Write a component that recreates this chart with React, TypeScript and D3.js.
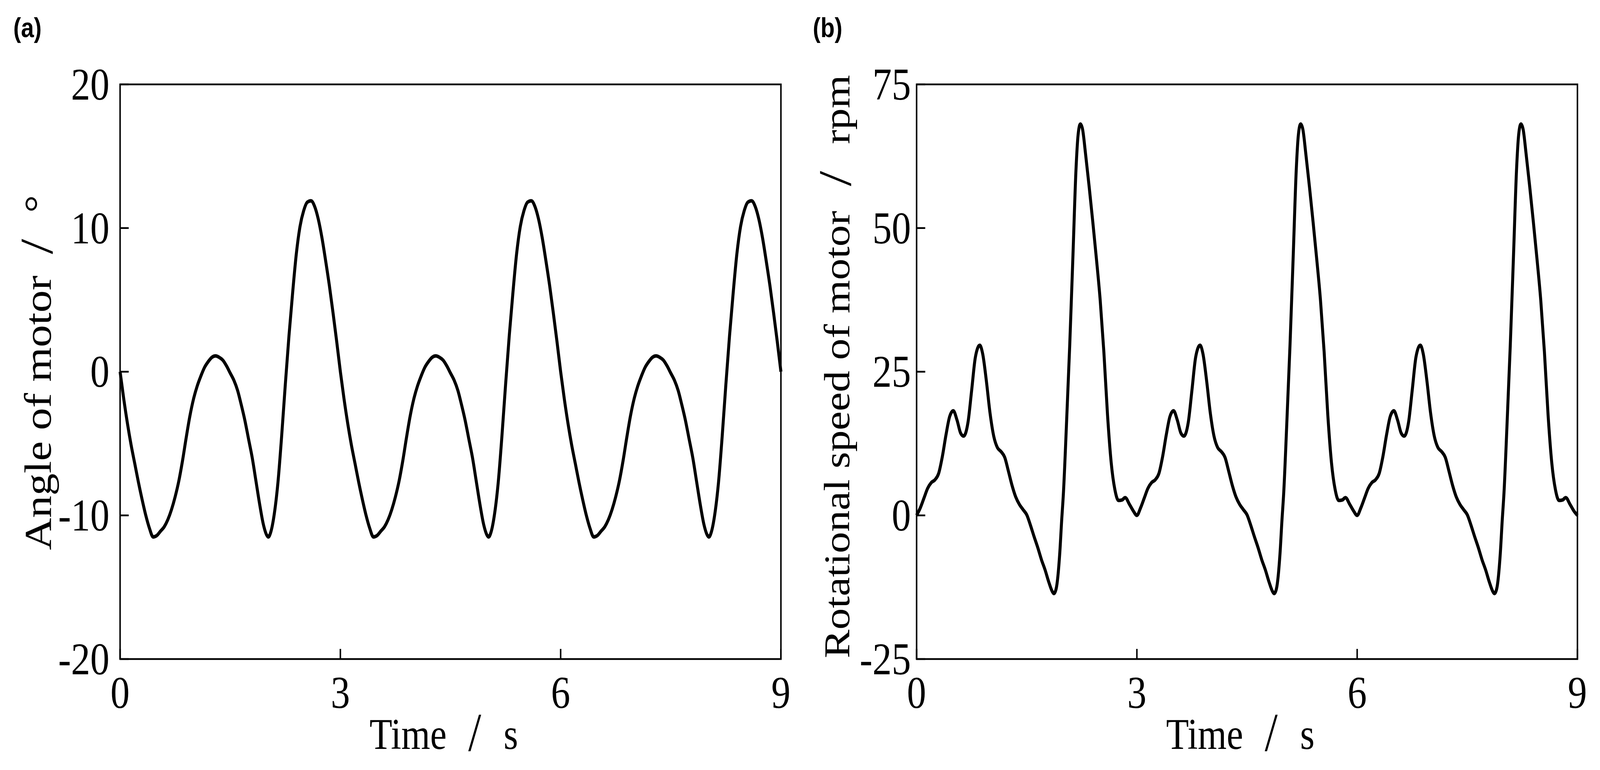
import { scaleLinear, line, curveMonotoneX } from "d3";

type Pt = [number, number];

// tick values shared by both panels
const timeTicks = [0, 3, 6, 9];
const angleTicks = [-20, -10, 0, 10, 20];
const speedTicks = [-25, 0, 25, 50, 75];

// (a) angle of motor, degrees, one cycle per array
const angleCycle1: Pt[] = [
  [0, 0], [0.05, -1.9], [0.1, -3.6], [0.15, -5.1], [0.2, -6.4], [0.25, -7.7], [0.3, -8.9], [0.35, -10.0],
  [0.4, -10.9], [0.45, -11.5], [0.5, -11.4], [0.55, -11.1], [0.6, -10.8], [0.65, -10.3], [0.7, -9.6],
  [0.75, -8.7], [0.8, -7.6], [0.85, -6.2], [0.9, -4.6], [0.95, -3.1], [1.0, -1.9], [1.05, -1.0], [1.1, -0.3],
  [1.15, 0.3], [1.2, 0.7], [1.25, 1.0], [1.3, 1.1], [1.35, 1.0], [1.4, 0.8], [1.45, 0.4], [1.5, -0.1],
  [1.55, -0.6], [1.6, -1.3], [1.65, -2.3], [1.7, -3.4], [1.75, -4.7], [1.8, -6.0], [1.85, -7.6], [1.9, -9.2],
  [1.95, -10.6], [2.0, -11.4], [2.02, -11.5], [2.05, -11.2], [2.1, -9.9], [2.15, -7.7], [2.2, -4.5],
  [2.25, -0.9], [2.3, 2.5], [2.35, 5.5], [2.4, 8.2], [2.45, 10.1], [2.5, 11.2], [2.55, 11.8], [2.6, 11.9],
  [2.65, 11.5], [2.7, 10.6], [2.75, 9.3], [2.8, 7.7], [2.85, 6.0], [2.9, 4.1], [2.95, 2.1],
];
const angleCycle2: Pt[] = [
  [3, 0], [3.05, -1.9], [3.1, -3.6], [3.15, -5.1], [3.2, -6.4], [3.25, -7.7], [3.3, -8.9], [3.35, -10.0],
  [3.4, -10.9], [3.45, -11.5], [3.5, -11.4], [3.55, -11.1], [3.6, -10.8], [3.65, -10.3], [3.7, -9.6],
  [3.75, -8.7], [3.8, -7.6], [3.85, -6.2], [3.9, -4.6], [3.95, -3.1], [4.0, -1.9], [4.05, -1.0], [4.1, -0.3],
  [4.15, 0.3], [4.2, 0.7], [4.25, 1.0], [4.3, 1.1], [4.35, 1.0], [4.4, 0.8], [4.45, 0.4], [4.5, -0.1],
  [4.55, -0.6], [4.6, -1.3], [4.65, -2.3], [4.7, -3.4], [4.75, -4.7], [4.8, -6.0], [4.85, -7.6], [4.9, -9.2],
  [4.95, -10.6], [5.0, -11.4], [5.02, -11.5], [5.05, -11.2], [5.1, -9.9], [5.15, -7.7], [5.2, -4.5],
  [5.25, -0.9], [5.3, 2.5], [5.35, 5.5], [5.4, 8.2], [5.45, 10.1], [5.5, 11.2], [5.55, 11.8], [5.6, 11.9],
  [5.65, 11.5], [5.7, 10.6], [5.75, 9.3], [5.8, 7.7], [5.85, 6.0], [5.9, 4.1], [5.95, 2.1],
];
const angleCycle3: Pt[] = [
  [6, 0], [6.05, -1.9], [6.1, -3.6], [6.15, -5.1], [6.2, -6.4], [6.25, -7.7], [6.3, -8.9], [6.35, -10.0],
  [6.4, -10.9], [6.45, -11.5], [6.5, -11.4], [6.55, -11.1], [6.6, -10.8], [6.65, -10.3], [6.7, -9.6],
  [6.75, -8.7], [6.8, -7.6], [6.85, -6.2], [6.9, -4.6], [6.95, -3.1], [7.0, -1.9], [7.05, -1.0], [7.1, -0.3],
  [7.15, 0.3], [7.2, 0.7], [7.25, 1.0], [7.3, 1.1], [7.35, 1.0], [7.4, 0.8], [7.45, 0.4], [7.5, -0.1],
  [7.55, -0.6], [7.6, -1.3], [7.65, -2.3], [7.7, -3.4], [7.75, -4.7], [7.8, -6.0], [7.85, -7.6], [7.9, -9.2],
  [7.95, -10.6], [8.0, -11.4], [8.02, -11.5], [8.05, -11.2], [8.1, -9.9], [8.15, -7.7], [8.2, -4.5],
  [8.25, -0.9], [8.3, 2.5], [8.35, 5.5], [8.4, 8.2], [8.45, 10.1], [8.5, 11.2], [8.55, 11.8], [8.6, 11.9],
  [8.65, 11.5], [8.7, 10.6], [8.75, 9.3], [8.8, 7.7], [8.85, 6.0], [8.9, 4.1], [8.95, 2.1], [9, 0],
];

// (b) rotational speed of motor, rpm
const speedCycle1: Pt[] = [
  [0, 0], [0.05, 1.3], [0.1, 3.0], [0.15, 4.7], [0.2, 5.7], [0.25, 6.2], [0.3, 7.3], [0.35, 10.2], [0.4, 14.0],
  [0.45, 17.2], [0.5, 18.2], [0.55, 16.6], [0.6, 14.3], [0.64, 13.8], [0.7, 16.2], [0.75, 21.8], [0.8, 27.5],
  [0.86, 29.6], [0.9, 28.1], [0.95, 23.4], [1.0, 17.8], [1.05, 13.8], [1.1, 11.8], [1.15, 11.1], [1.2, 10.1],
  [1.25, 7.7], [1.3, 5.2], [1.35, 3.2], [1.4, 1.9], [1.45, 1.0], [1.5, 0.1], [1.55, -1.7], [1.6, -3.7],
  [1.65, -5.6], [1.7, -7.7], [1.75, -9.5], [1.8, -11.6], [1.85, -13.3], [1.87, -13.6], [1.9, -12.8],
  [1.95, -6.5], [1.975, -1.0], [2.0, 4.0], [2.04, 15.5], [2.085, 29.5], [2.13, 45.5], [2.17, 60.0],
  [2.2, 66.3], [2.23, 68.1], [2.26, 67.2], [2.3, 63.0], [2.35, 57.2], [2.4, 51.0], [2.45, 44.5], [2.5, 37.5],
  [2.55, 28.5], [2.6, 17.5], [2.65, 9.2], [2.7, 4.5], [2.75, 2.6], [2.8, 2.7], [2.84, 3.1], [2.9, 1.9],
  [2.95, 0.8],
];
const speedCycle2: Pt[] = [
  [3, 0], [3.05, 1.3], [3.1, 3.0], [3.15, 4.7], [3.2, 5.7], [3.25, 6.2], [3.3, 7.3], [3.35, 10.2], [3.4, 14.0],
  [3.45, 17.2], [3.5, 18.2], [3.55, 16.6], [3.6, 14.3], [3.64, 13.8], [3.7, 16.2], [3.75, 21.8], [3.8, 27.5],
  [3.86, 29.6], [3.9, 28.1], [3.95, 23.4], [4.0, 17.8], [4.05, 13.8], [4.1, 11.8], [4.15, 11.1], [4.2, 10.1],
  [4.25, 7.7], [4.3, 5.2], [4.35, 3.2], [4.4, 1.9], [4.45, 1.0], [4.5, 0.1], [4.55, -1.7], [4.6, -3.7],
  [4.65, -5.6], [4.7, -7.7], [4.75, -9.5], [4.8, -11.6], [4.85, -13.3], [4.87, -13.6], [4.9, -12.8],
  [4.95, -6.5], [4.975, -1.0], [5.0, 4.0], [5.04, 15.5], [5.085, 29.5], [5.13, 45.5], [5.17, 60.0],
  [5.2, 66.3], [5.23, 68.1], [5.26, 67.2], [5.3, 63.0], [5.35, 57.2], [5.4, 51.0], [5.45, 44.5], [5.5, 37.5],
  [5.55, 28.5], [5.6, 17.5], [5.65, 9.2], [5.7, 4.5], [5.75, 2.6], [5.8, 2.7], [5.84, 3.1], [5.9, 1.9],
  [5.95, 0.8],
];
const speedCycle3: Pt[] = [
  [6, 0], [6.05, 1.3], [6.1, 3.0], [6.15, 4.7], [6.2, 5.7], [6.25, 6.2], [6.3, 7.3], [6.35, 10.2], [6.4, 14.0],
  [6.45, 17.2], [6.5, 18.2], [6.55, 16.6], [6.6, 14.3], [6.64, 13.8], [6.7, 16.2], [6.75, 21.8], [6.8, 27.5],
  [6.86, 29.6], [6.9, 28.1], [6.95, 23.4], [7.0, 17.8], [7.05, 13.8], [7.1, 11.8], [7.15, 11.1], [7.2, 10.1],
  [7.25, 7.7], [7.3, 5.2], [7.35, 3.2], [7.4, 1.9], [7.45, 1.0], [7.5, 0.1], [7.55, -1.7], [7.6, -3.7],
  [7.65, -5.6], [7.7, -7.7], [7.75, -9.5], [7.8, -11.6], [7.85, -13.3], [7.87, -13.6], [7.9, -12.8],
  [7.95, -6.5], [7.975, -1.0], [8.0, 4.0], [8.04, 15.5], [8.085, 29.5], [8.13, 45.5], [8.17, 60.0],
  [8.2, 66.3], [8.23, 68.1], [8.26, 67.2], [8.3, 63.0], [8.35, 57.2], [8.4, 51.0], [8.45, 44.5], [8.5, 37.5],
  [8.55, 28.5], [8.6, 17.5], [8.65, 9.2], [8.7, 4.5], [8.75, 2.6], [8.8, 2.7], [8.84, 3.1], [8.9, 1.9],
  [8.95, 0.8], [9, 0],
];

const angleData = [...angleCycle1, ...angleCycle2, ...angleCycle3];
const speedData = [...speedCycle1, ...speedCycle2, ...speedCycle3];

const SERIF = "'Liberation Serif', 'Times New Roman', serif";
const SANS = "'Liberation Sans', Arial, sans-serif";

// drawing space; the svg is stretched over the whole viewport
const W = 4823;
const H = 1971;
const TOP = 216;
const BOTTOM = 1687;

interface PanelProps {
  letter: string;
  letterX: number;
  left: number;
  right: number;
  yDomain: [number, number];
  yTicks: number[];
  data: Pt[];
  tickLabelRight: number;
  yTitle: {
    baseline: number;
    start: number;
    text: string;
    size: number;
    slashAt: number;
    unit: string;
    unitAt: number;
    unitAnchor: "start" | "middle";
  };
}

function Panel({ letter, letterX, left, right, yDomain, yTicks, data, tickLabelRight, yTitle }: PanelProps) {
  const x = scaleLinear().domain([0, 9]).range([left, right]);
  const y = scaleLinear().domain(yDomain).range([BOTTOM, TOP]);

  const path = line<Pt>()
    .x((d) => x(d[0]))
    .y((d) => y(d[1]))
    .curve(curveMonotoneX)(data);

  const cx = (left + right) / 2;

  return (
    <g>
      <text x={letterX} y={95} fontFamily={SANS} fontWeight="bold" fontSize={70}>
        {letter}
      </text>

      {/* curve */}
      <path d={path ?? undefined} fill="none" stroke="#000" strokeWidth={9} strokeLinejoin="round" />

      {/* frame */}
      <rect x={left} y={TOP} width={right - left} height={BOTTOM - TOP} fill="none" stroke="#000" strokeWidth={4.5} />

      {/* inward ticks */}
      {timeTicks.map((t) => (
        <line key={"xt" + t} x1={x(t)} x2={x(t)} y1={BOTTOM} y2={BOTTOM - 26} stroke="#000" strokeWidth={4.5} />
      ))}
      {yTicks.map((v) => (
        <line key={"yt" + v} x1={left} x2={left + 26} y1={y(v)} y2={y(v)} stroke="#000" strokeWidth={4.5} />
      ))}

      {/* tick labels */}
      {timeTicks.map((t) => (
        <text key={"xl" + t} x={x(t)} y={1812} textAnchor="middle" fontFamily={SERIF} fontSize={116}>
          {t}
        </text>
      ))}
      {yTicks.map((v) => (
        <text key={"yl" + v} x={tickLabelRight} y={y(v) + 39} textAnchor="end" fontFamily={SERIF} fontSize={116}>
          {v < 0 ? "-" + Math.abs(v) : v}
        </text>
      ))}

      {/* x title */}
      <g fontFamily={SERIF}>
        <text x={cx - 244} y={1917} fontSize={112}>Time</text>
        <text x={cx + 73} y={1922} fontSize={140} textAnchor="middle">/</text>
        <text x={cx + 160} y={1917} fontSize={112}>s</text>
      </g>

      {/* y title */}
      <g transform={`translate(${yTitle.baseline},0) rotate(-90)`} fontFamily={SERIF}>
        <text x={-yTitle.start} y={0} fontSize={yTitle.size}>{yTitle.text}</text>
        <text x={-yTitle.slashAt} y={5} fontSize={140} textAnchor="middle">/</text>
        <text x={-yTitle.unitAt} y={0} fontSize={yTitle.size} textAnchor={yTitle.unitAnchor}>
          {yTitle.unit}
        </text>
      </g>
    </g>
  );
}

export default function App() {
  return (
    <div
      style={{
        position: "fixed",
        left: 0,
        top: 0,
        width: "100vw",
        height: "100vh",
        overflow: "hidden",
        background: "#fff",
      }}
    >
      <svg
        width="100%"
        height="100%"
        viewBox={`0 0 ${W} ${H}`}
        preserveAspectRatio="none"
        style={{ display: "block" }}
      >
        <rect width={W} height={H} fill="#fff" />
        <Panel
          letter="(a)"
          letterX={40}
          left={362}
          right={2354}
          yDomain={[-20, 20]}
          yTicks={angleTicks}
          data={angleData}
          tickLabelRight={330}
          yTitle={{
            baseline: 153,
            start: 1408,
            text: "Angle of motor",
            size: 114,
            slashAt: 631,
            unit: "°",
            unitAt: 522,
            unitAnchor: "middle",
          }}
        />
        <Panel
          letter="(b)"
          letterX={2450}
          left={2763}
          right={4755}
          yDomain={[-25, 75]}
          yTicks={speedTicks}
          data={speedData}
          tickLabelRight={2746}
          yTitle={{
            baseline: 2560,
            start: 1685,
            text: "Rotational speed of motor",
            size: 110,
            slashAt: 457,
            unit: "rpm",
            unitAt: 369,
            unitAnchor: "start",
          }}
        />
      </svg>
    </div>
  );
}
